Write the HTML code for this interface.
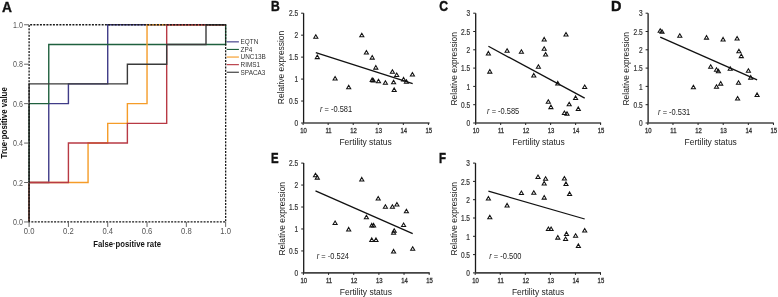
<!DOCTYPE html>
<html><head><meta charset="utf-8"><style>
html,body{margin:0;padding:0;background:#fff;}
body{width:778px;height:297px;overflow:hidden;}
svg{display:block;font-family:"Liberation Sans", sans-serif;will-change:transform;}
</style></head><body>
<svg width="778" height="297" viewBox="0 0 778 297">
<text transform="translate(2.0,11.9) scale(0.92,1)" font-size="15" font-weight="bold" fill="#111" stroke="#111" stroke-width="0.35">A</text>
<path d="M29.10,221.95 L29.10,182.51 L48.76,182.51 L48.76,103.63 L68.41,103.63 L68.41,83.91 L107.72,83.91 L107.72,24.75 L225.65,24.75" fill="none" stroke="#403c88" stroke-width="1.4" stroke-linejoin="miter"/>
<path d="M29.10,221.95 L29.10,103.63 L48.76,103.63 L48.76,44.47 L225.65,44.47 L225.65,24.75" fill="none" stroke="#1f603e" stroke-width="1.4" stroke-linejoin="miter"/>
<path d="M29.10,221.95 L29.10,182.51 L68.41,182.51 L88.06,182.51 L88.06,143.07 L107.72,143.07 L107.72,123.35 L127.38,123.35 L127.38,103.63 L147.03,103.63 L147.03,24.75 L225.65,24.75" fill="none" stroke="#f59c28" stroke-width="1.4" stroke-linejoin="miter"/>
<path d="M29.10,221.95 L29.10,182.51 L68.41,182.51 L68.41,143.07 L127.38,143.07 L127.38,123.35 L166.69,123.35 L166.69,24.75 L225.65,24.75" fill="none" stroke="#b83a44" stroke-width="1.4" stroke-linejoin="miter"/>
<path d="M29.10,221.95 L29.10,83.91 L127.38,83.91 L127.38,64.19 L166.69,64.19 L166.69,44.47 L206.00,44.47 L206.00,24.75 L225.65,24.75" fill="none" stroke="#3a3a3a" stroke-width="1.4" stroke-linejoin="miter"/>
<path d="M29.1,221.95 L29.1,24.75 L225.65,24.75 L225.65,221.95 Z" fill="none" stroke="#1a1a1a" stroke-width="1.3" stroke-dasharray="2,1.25"/>
<line x1="24.1" y1="221.95" x2="29.1" y2="221.95" stroke="#666" stroke-width="1"/>
<line x1="29.10" y1="221.95" x2="29.10" y2="226.95" stroke="#666" stroke-width="1"/>
<text transform="translate(23.00,225.20) scale(0.79,1)" font-size="9" fill="#555" text-anchor="end">0.0</text>
<text transform="translate(29.10,234.15) scale(0.85,1)" font-size="9" fill="#555" text-anchor="middle">0.0</text>
<line x1="24.1" y1="182.51" x2="29.1" y2="182.51" stroke="#666" stroke-width="1"/>
<line x1="68.41" y1="221.95" x2="68.41" y2="226.95" stroke="#666" stroke-width="1"/>
<text transform="translate(23.00,185.76) scale(0.79,1)" font-size="9" fill="#555" text-anchor="end">0.2</text>
<text transform="translate(68.41,234.15) scale(0.85,1)" font-size="9" fill="#555" text-anchor="middle">0.2</text>
<line x1="24.1" y1="143.07" x2="29.1" y2="143.07" stroke="#666" stroke-width="1"/>
<line x1="107.72" y1="221.95" x2="107.72" y2="226.95" stroke="#666" stroke-width="1"/>
<text transform="translate(23.00,146.32) scale(0.79,1)" font-size="9" fill="#555" text-anchor="end">0.4</text>
<text transform="translate(107.72,234.15) scale(0.85,1)" font-size="9" fill="#555" text-anchor="middle">0.4</text>
<line x1="24.1" y1="103.63" x2="29.1" y2="103.63" stroke="#666" stroke-width="1"/>
<line x1="147.03" y1="221.95" x2="147.03" y2="226.95" stroke="#666" stroke-width="1"/>
<text transform="translate(23.00,106.88) scale(0.79,1)" font-size="9" fill="#555" text-anchor="end">0.6</text>
<text transform="translate(147.03,234.15) scale(0.85,1)" font-size="9" fill="#555" text-anchor="middle">0.6</text>
<line x1="24.1" y1="64.19" x2="29.1" y2="64.19" stroke="#666" stroke-width="1"/>
<line x1="186.34" y1="221.95" x2="186.34" y2="226.95" stroke="#666" stroke-width="1"/>
<text transform="translate(23.00,67.44) scale(0.79,1)" font-size="9" fill="#555" text-anchor="end">0.8</text>
<text transform="translate(186.34,234.15) scale(0.85,1)" font-size="9" fill="#555" text-anchor="middle">0.8</text>
<line x1="24.1" y1="24.75" x2="29.1" y2="24.75" stroke="#666" stroke-width="1"/>
<line x1="225.65" y1="221.95" x2="225.65" y2="226.95" stroke="#666" stroke-width="1"/>
<text transform="translate(23.00,28.00) scale(0.79,1)" font-size="9" fill="#555" text-anchor="end">1.0</text>
<text transform="translate(225.65,234.15) scale(0.85,1)" font-size="9" fill="#555" text-anchor="middle">1.0</text>
<line x1="226.7" y1="41.85" x2="238.9" y2="41.85" stroke="#403c88" stroke-width="1.15"/>
<text transform="translate(240.6,44.25) scale(0.97,1)" font-size="6.6" fill="#333">EQTN</text>
<line x1="226.7" y1="49.45" x2="238.9" y2="49.45" stroke="#1f603e" stroke-width="1.15"/>
<text transform="translate(240.6,51.85) scale(0.97,1)" font-size="6.6" fill="#333">ZP4</text>
<line x1="226.7" y1="57.05" x2="238.9" y2="57.05" stroke="#f59c28" stroke-width="1.15"/>
<text transform="translate(240.6,59.45) scale(0.97,1)" font-size="6.6" fill="#333">UNC13B</text>
<line x1="226.7" y1="64.65" x2="238.9" y2="64.65" stroke="#b83a44" stroke-width="1.15"/>
<text transform="translate(240.6,67.05) scale(0.97,1)" font-size="6.6" fill="#333">RIMS1</text>
<line x1="226.7" y1="72.25" x2="238.9" y2="72.25" stroke="#3a3a3a" stroke-width="1.15"/>
<text transform="translate(240.6,74.65) scale(0.97,1)" font-size="6.6" fill="#333">SPACA3</text>
<text x="127.15" y="246.8" font-size="8.3" font-weight="bold" fill="#111" text-anchor="middle" textLength="67.7" lengthAdjust="spacingAndGlyphs">False·positive rate</text>
<text transform="translate(7.1,122.8) rotate(-90)" font-size="8.3" font-weight="bold" fill="#111" text-anchor="middle" textLength="71.2" lengthAdjust="spacingAndGlyphs">True·positive value</text>
<text transform="translate(271.0,11.45) scale(0.81,1)" font-size="15" font-weight="bold" fill="#111" stroke="#111" stroke-width="0.45">B</text>
<path d="M303.6,13.200000000000001 L303.6,123.0" fill="none" stroke="#1a1a1a" stroke-width="1.3"/>
<path d="M303.6,123.0 L429.6,123.0" fill="none" stroke="#444" stroke-width="1.7"/>
<line x1="301.1" y1="123.00" x2="303.6" y2="123.00" stroke="#222" stroke-width="1"/>
<text transform="translate(298.10,126.25) scale(0.77,1)" font-size="8.5" fill="#3a3a3a" stroke="#3a3a3a" stroke-width="0.25" text-anchor="end">0</text>
<line x1="301.1" y1="101.04" x2="303.6" y2="101.04" stroke="#222" stroke-width="1"/>
<text transform="translate(298.10,104.29) scale(0.77,1)" font-size="8.5" fill="#3a3a3a" stroke="#3a3a3a" stroke-width="0.25" text-anchor="end">0.5</text>
<line x1="301.1" y1="79.08" x2="303.6" y2="79.08" stroke="#222" stroke-width="1"/>
<text transform="translate(298.10,82.33) scale(0.77,1)" font-size="8.5" fill="#3a3a3a" stroke="#3a3a3a" stroke-width="0.25" text-anchor="end">1</text>
<line x1="301.1" y1="57.12" x2="303.6" y2="57.12" stroke="#222" stroke-width="1"/>
<text transform="translate(298.10,60.37) scale(0.77,1)" font-size="8.5" fill="#3a3a3a" stroke="#3a3a3a" stroke-width="0.25" text-anchor="end">1.5</text>
<line x1="301.1" y1="35.16" x2="303.6" y2="35.16" stroke="#222" stroke-width="1"/>
<text transform="translate(298.10,38.41) scale(0.77,1)" font-size="8.5" fill="#3a3a3a" stroke="#3a3a3a" stroke-width="0.25" text-anchor="end">2</text>
<line x1="301.1" y1="13.20" x2="303.6" y2="13.20" stroke="#222" stroke-width="1"/>
<text transform="translate(298.10,16.45) scale(0.77,1)" font-size="8.5" fill="#3a3a3a" stroke="#3a3a3a" stroke-width="0.25" text-anchor="end">2.5</text>
<line x1="303.10" y1="123.0" x2="303.10" y2="125.0" stroke="#222" stroke-width="1"/>
<text transform="translate(303.50,133.10) scale(0.85,1)" font-size="7.0" fill="#333" stroke="#333" stroke-width="0.3" text-anchor="middle">10</text>
<line x1="328.16" y1="123.0" x2="328.16" y2="125.0" stroke="#222" stroke-width="1"/>
<text transform="translate(328.56,133.10) scale(0.85,1)" font-size="7.0" fill="#333" stroke="#333" stroke-width="0.3" text-anchor="middle">11</text>
<line x1="353.22" y1="123.0" x2="353.22" y2="125.0" stroke="#222" stroke-width="1"/>
<text transform="translate(353.62,133.10) scale(0.85,1)" font-size="7.0" fill="#333" stroke="#333" stroke-width="0.3" text-anchor="middle">12</text>
<line x1="378.28" y1="123.0" x2="378.28" y2="125.0" stroke="#222" stroke-width="1"/>
<text transform="translate(378.68,133.10) scale(0.85,1)" font-size="7.0" fill="#333" stroke="#333" stroke-width="0.3" text-anchor="middle">13</text>
<line x1="403.34" y1="123.0" x2="403.34" y2="125.0" stroke="#222" stroke-width="1"/>
<text transform="translate(403.74,133.10) scale(0.85,1)" font-size="7.0" fill="#333" stroke="#333" stroke-width="0.3" text-anchor="middle">14</text>
<line x1="428.40" y1="123.0" x2="428.40" y2="125.0" stroke="#222" stroke-width="1"/>
<text transform="translate(428.80,133.10) scale(0.85,1)" font-size="7.0" fill="#333" stroke="#333" stroke-width="0.3" text-anchor="middle">15</text>
<text x="365.60" y="144.90" font-size="8.6" fill="#222" text-anchor="middle" textLength="52.3" lengthAdjust="spacingAndGlyphs">Fertility status</text>
<text transform="translate(284.30,67.50) rotate(-90)" font-size="8.9" fill="#222" text-anchor="middle" textLength="73.4" lengthAdjust="spacingAndGlyphs">Relative expression</text>
<text transform="translate(320.00,111.70) scale(0.84,1)" font-size="8.9" fill="#222"><tspan font-style="italic">r</tspan> = -0.581</text>
<line x1="315.8" y1="52.6" x2="412.7" y2="83.7" stroke="#111" stroke-width="1.3"/>
<path d="M315.80,34.70 L317.85,38.20 L313.75,38.20 Z" fill="none" stroke="#111" stroke-width="1.05" stroke-linejoin="miter"/>
<path d="M361.80,33.20 L363.85,36.70 L359.75,36.70 Z" fill="none" stroke="#111" stroke-width="1.05" stroke-linejoin="miter"/>
<path d="M317.30,55.10 L319.35,58.60 L315.25,58.60 Z" fill="none" stroke="#111" stroke-width="1.05" stroke-linejoin="miter"/>
<path d="M366.40,50.50 L368.45,54.00 L364.35,54.00 Z" fill="none" stroke="#111" stroke-width="1.05" stroke-linejoin="miter"/>
<path d="M372.20,55.60 L374.25,59.10 L370.15,59.10 Z" fill="none" stroke="#111" stroke-width="1.05" stroke-linejoin="miter"/>
<path d="M335.10,76.50 L337.15,80.00 L333.05,80.00 Z" fill="none" stroke="#111" stroke-width="1.05" stroke-linejoin="miter"/>
<path d="M348.70,85.20 L350.75,88.70 L346.65,88.70 Z" fill="none" stroke="#111" stroke-width="1.05" stroke-linejoin="miter"/>
<path d="M375.80,65.60 L377.85,69.10 L373.75,69.10 Z" fill="none" stroke="#111" stroke-width="1.05" stroke-linejoin="miter"/>
<path d="M372.20,77.90 L374.25,81.40 L370.15,81.40 Z" fill="none" stroke="#111" stroke-width="1.05" stroke-linejoin="miter"/>
<path d="M373.30,78.50 L375.35,82.00 L371.25,82.00 Z" fill="none" stroke="#111" stroke-width="1.05" stroke-linejoin="miter"/>
<path d="M378.50,79.20 L380.55,82.70 L376.45,82.70 Z" fill="none" stroke="#111" stroke-width="1.05" stroke-linejoin="miter"/>
<path d="M385.40,80.70 L387.45,84.20 L383.35,84.20 Z" fill="none" stroke="#111" stroke-width="1.05" stroke-linejoin="miter"/>
<path d="M392.40,69.80 L394.45,73.30 L390.35,73.30 Z" fill="none" stroke="#111" stroke-width="1.05" stroke-linejoin="miter"/>
<path d="M396.70,73.00 L398.75,76.50 L394.65,76.50 Z" fill="none" stroke="#111" stroke-width="1.05" stroke-linejoin="miter"/>
<path d="M393.60,80.30 L395.65,83.80 L391.55,83.80 Z" fill="none" stroke="#111" stroke-width="1.05" stroke-linejoin="miter"/>
<path d="M394.20,87.90 L396.25,91.40 L392.15,91.40 Z" fill="none" stroke="#111" stroke-width="1.05" stroke-linejoin="miter"/>
<path d="M403.60,77.40 L405.65,80.90 L401.55,80.90 Z" fill="none" stroke="#111" stroke-width="1.05" stroke-linejoin="miter"/>
<path d="M406.40,79.80 L408.45,83.30 L404.35,83.30 Z" fill="none" stroke="#111" stroke-width="1.05" stroke-linejoin="miter"/>
<path d="M412.40,72.50 L414.45,76.00 L410.35,76.00 Z" fill="none" stroke="#111" stroke-width="1.05" stroke-linejoin="miter"/>
<text transform="translate(439.3,11.45) scale(0.81,1)" font-size="15" font-weight="bold" fill="#111" stroke="#111" stroke-width="0.45">C</text>
<path d="M475.7,13.200000000000001 L475.7,123.0" fill="none" stroke="#1a1a1a" stroke-width="1.3"/>
<path d="M475.7,123.0 L601.1,123.0" fill="none" stroke="#444" stroke-width="1.7"/>
<line x1="473.2" y1="123.00" x2="475.7" y2="123.00" stroke="#222" stroke-width="1"/>
<text transform="translate(470.20,126.25) scale(0.77,1)" font-size="8.5" fill="#3a3a3a" stroke="#3a3a3a" stroke-width="0.25" text-anchor="end">0</text>
<line x1="473.2" y1="104.70" x2="475.7" y2="104.70" stroke="#222" stroke-width="1"/>
<text transform="translate(470.20,107.95) scale(0.77,1)" font-size="8.5" fill="#3a3a3a" stroke="#3a3a3a" stroke-width="0.25" text-anchor="end">0.5</text>
<line x1="473.2" y1="86.40" x2="475.7" y2="86.40" stroke="#222" stroke-width="1"/>
<text transform="translate(470.20,89.65) scale(0.77,1)" font-size="8.5" fill="#3a3a3a" stroke="#3a3a3a" stroke-width="0.25" text-anchor="end">1</text>
<line x1="473.2" y1="68.10" x2="475.7" y2="68.10" stroke="#222" stroke-width="1"/>
<text transform="translate(470.20,71.35) scale(0.77,1)" font-size="8.5" fill="#3a3a3a" stroke="#3a3a3a" stroke-width="0.25" text-anchor="end">1.5</text>
<line x1="473.2" y1="49.80" x2="475.7" y2="49.80" stroke="#222" stroke-width="1"/>
<text transform="translate(470.20,53.05) scale(0.77,1)" font-size="8.5" fill="#3a3a3a" stroke="#3a3a3a" stroke-width="0.25" text-anchor="end">2</text>
<line x1="473.2" y1="31.50" x2="475.7" y2="31.50" stroke="#222" stroke-width="1"/>
<text transform="translate(470.20,34.75) scale(0.77,1)" font-size="8.5" fill="#3a3a3a" stroke="#3a3a3a" stroke-width="0.25" text-anchor="end">2.5</text>
<line x1="473.2" y1="13.20" x2="475.7" y2="13.20" stroke="#222" stroke-width="1"/>
<text transform="translate(470.20,16.45) scale(0.77,1)" font-size="8.5" fill="#3a3a3a" stroke="#3a3a3a" stroke-width="0.25" text-anchor="end">3</text>
<line x1="475.70" y1="123.0" x2="475.70" y2="125.0" stroke="#222" stroke-width="1"/>
<text transform="translate(476.10,133.10) scale(0.85,1)" font-size="7.0" fill="#333" stroke="#333" stroke-width="0.3" text-anchor="middle">10</text>
<line x1="500.68" y1="123.0" x2="500.68" y2="125.0" stroke="#222" stroke-width="1"/>
<text transform="translate(501.08,133.10) scale(0.85,1)" font-size="7.0" fill="#333" stroke="#333" stroke-width="0.3" text-anchor="middle">11</text>
<line x1="525.66" y1="123.0" x2="525.66" y2="125.0" stroke="#222" stroke-width="1"/>
<text transform="translate(526.06,133.10) scale(0.85,1)" font-size="7.0" fill="#333" stroke="#333" stroke-width="0.3" text-anchor="middle">12</text>
<line x1="550.64" y1="123.0" x2="550.64" y2="125.0" stroke="#222" stroke-width="1"/>
<text transform="translate(551.04,133.10) scale(0.85,1)" font-size="7.0" fill="#333" stroke="#333" stroke-width="0.3" text-anchor="middle">13</text>
<line x1="575.62" y1="123.0" x2="575.62" y2="125.0" stroke="#222" stroke-width="1"/>
<text transform="translate(576.02,133.10) scale(0.85,1)" font-size="7.0" fill="#333" stroke="#333" stroke-width="0.3" text-anchor="middle">14</text>
<line x1="600.60" y1="123.0" x2="600.60" y2="125.0" stroke="#222" stroke-width="1"/>
<text transform="translate(601.00,133.10) scale(0.85,1)" font-size="7.0" fill="#333" stroke="#333" stroke-width="0.3" text-anchor="middle">15</text>
<text x="538.60" y="144.90" font-size="8.6" fill="#222" text-anchor="middle" textLength="52.3" lengthAdjust="spacingAndGlyphs">Fertility status</text>
<text transform="translate(457.00,68.80) rotate(-90)" font-size="8.9" fill="#222" text-anchor="middle" textLength="73.4" lengthAdjust="spacingAndGlyphs">Relative expression</text>
<text transform="translate(487.10,113.70) scale(0.84,1)" font-size="8.9" fill="#222"><tspan font-style="italic">r</tspan> = -0.585</text>
<line x1="488.4" y1="46.3" x2="584.7" y2="98.10000000000001" stroke="#111" stroke-width="1.3"/>
<path d="M488.40,51.40 L490.45,54.90 L486.35,54.90 Z" fill="none" stroke="#111" stroke-width="1.05" stroke-linejoin="miter"/>
<path d="M489.80,69.60 L491.85,73.10 L487.75,73.10 Z" fill="none" stroke="#111" stroke-width="1.05" stroke-linejoin="miter"/>
<path d="M507.10,48.70 L509.15,52.20 L505.05,52.20 Z" fill="none" stroke="#111" stroke-width="1.05" stroke-linejoin="miter"/>
<path d="M521.40,49.80 L523.45,53.30 L519.35,53.30 Z" fill="none" stroke="#111" stroke-width="1.05" stroke-linejoin="miter"/>
<path d="M538.40,64.70 L540.45,68.20 L536.35,68.20 Z" fill="none" stroke="#111" stroke-width="1.05" stroke-linejoin="miter"/>
<path d="M533.80,73.40 L535.85,76.90 L531.75,76.90 Z" fill="none" stroke="#111" stroke-width="1.05" stroke-linejoin="miter"/>
<path d="M544.20,37.40 L546.25,40.90 L542.15,40.90 Z" fill="none" stroke="#111" stroke-width="1.05" stroke-linejoin="miter"/>
<path d="M544.20,46.80 L546.25,50.30 L542.15,50.30 Z" fill="none" stroke="#111" stroke-width="1.05" stroke-linejoin="miter"/>
<path d="M545.60,52.50 L547.65,56.00 L543.55,56.00 Z" fill="none" stroke="#111" stroke-width="1.05" stroke-linejoin="miter"/>
<path d="M566.00,32.50 L568.05,36.00 L563.95,36.00 Z" fill="none" stroke="#111" stroke-width="1.05" stroke-linejoin="miter"/>
<path d="M557.80,81.40 L559.85,84.90 L555.75,84.90 Z" fill="none" stroke="#111" stroke-width="1.05" stroke-linejoin="miter"/>
<path d="M584.70,85.00 L586.75,88.50 L582.65,88.50 Z" fill="none" stroke="#111" stroke-width="1.05" stroke-linejoin="miter"/>
<path d="M575.60,95.90 L577.65,99.40 L573.55,99.40 Z" fill="none" stroke="#111" stroke-width="1.05" stroke-linejoin="miter"/>
<path d="M548.30,99.70 L550.35,103.20 L546.25,103.20 Z" fill="none" stroke="#111" stroke-width="1.05" stroke-linejoin="miter"/>
<path d="M550.90,105.10 L552.95,108.60 L548.85,108.60 Z" fill="none" stroke="#111" stroke-width="1.05" stroke-linejoin="miter"/>
<path d="M569.20,102.20 L571.25,105.70 L567.15,105.70 Z" fill="none" stroke="#111" stroke-width="1.05" stroke-linejoin="miter"/>
<path d="M578.30,106.90 L580.35,110.40 L576.25,110.40 Z" fill="none" stroke="#111" stroke-width="1.05" stroke-linejoin="miter"/>
<path d="M564.40,111.00 L566.45,114.50 L562.35,114.50 Z" fill="none" stroke="#111" stroke-width="1.05" stroke-linejoin="miter"/>
<path d="M567.00,111.70 L569.05,115.20 L564.95,115.20 Z" fill="none" stroke="#111" stroke-width="1.05" stroke-linejoin="miter"/>
<text transform="translate(610.9,11.45) scale(0.96,1)" font-size="15" font-weight="bold" fill="#111" stroke="#111" stroke-width="0.45">D</text>
<path d="M648.1,13.200000000000001 L648.1,123.0" fill="none" stroke="#1a1a1a" stroke-width="1.3"/>
<path d="M648.1,123.0 L773.7,123.0" fill="none" stroke="#444" stroke-width="1.7"/>
<line x1="645.6" y1="123.00" x2="648.1" y2="123.00" stroke="#222" stroke-width="1"/>
<text transform="translate(642.60,126.25) scale(0.77,1)" font-size="8.5" fill="#3a3a3a" stroke="#3a3a3a" stroke-width="0.25" text-anchor="end">0</text>
<line x1="645.6" y1="104.70" x2="648.1" y2="104.70" stroke="#222" stroke-width="1"/>
<text transform="translate(642.60,107.95) scale(0.77,1)" font-size="8.5" fill="#3a3a3a" stroke="#3a3a3a" stroke-width="0.25" text-anchor="end">0.5</text>
<line x1="645.6" y1="86.40" x2="648.1" y2="86.40" stroke="#222" stroke-width="1"/>
<text transform="translate(642.60,89.65) scale(0.77,1)" font-size="8.5" fill="#3a3a3a" stroke="#3a3a3a" stroke-width="0.25" text-anchor="end">1</text>
<line x1="645.6" y1="68.10" x2="648.1" y2="68.10" stroke="#222" stroke-width="1"/>
<text transform="translate(642.60,71.35) scale(0.77,1)" font-size="8.5" fill="#3a3a3a" stroke="#3a3a3a" stroke-width="0.25" text-anchor="end">1.5</text>
<line x1="645.6" y1="49.80" x2="648.1" y2="49.80" stroke="#222" stroke-width="1"/>
<text transform="translate(642.60,53.05) scale(0.77,1)" font-size="8.5" fill="#3a3a3a" stroke="#3a3a3a" stroke-width="0.25" text-anchor="end">2</text>
<line x1="645.6" y1="31.50" x2="648.1" y2="31.50" stroke="#222" stroke-width="1"/>
<text transform="translate(642.60,34.75) scale(0.77,1)" font-size="8.5" fill="#3a3a3a" stroke="#3a3a3a" stroke-width="0.25" text-anchor="end">2.5</text>
<line x1="645.6" y1="13.20" x2="648.1" y2="13.20" stroke="#222" stroke-width="1"/>
<text transform="translate(642.60,16.45) scale(0.77,1)" font-size="8.5" fill="#3a3a3a" stroke="#3a3a3a" stroke-width="0.25" text-anchor="end">3</text>
<line x1="647.85" y1="123.0" x2="647.85" y2="125.0" stroke="#222" stroke-width="1"/>
<text transform="translate(648.25,133.10) scale(0.85,1)" font-size="7.0" fill="#333" stroke="#333" stroke-width="0.3" text-anchor="middle">10</text>
<line x1="672.97" y1="123.0" x2="672.97" y2="125.0" stroke="#222" stroke-width="1"/>
<text transform="translate(673.37,133.10) scale(0.85,1)" font-size="7.0" fill="#333" stroke="#333" stroke-width="0.3" text-anchor="middle">11</text>
<line x1="698.09" y1="123.0" x2="698.09" y2="125.0" stroke="#222" stroke-width="1"/>
<text transform="translate(698.49,133.10) scale(0.85,1)" font-size="7.0" fill="#333" stroke="#333" stroke-width="0.3" text-anchor="middle">12</text>
<line x1="723.21" y1="123.0" x2="723.21" y2="125.0" stroke="#222" stroke-width="1"/>
<text transform="translate(723.61,133.10) scale(0.85,1)" font-size="7.0" fill="#333" stroke="#333" stroke-width="0.3" text-anchor="middle">13</text>
<line x1="748.33" y1="123.0" x2="748.33" y2="125.0" stroke="#222" stroke-width="1"/>
<text transform="translate(748.73,133.10) scale(0.85,1)" font-size="7.0" fill="#333" stroke="#333" stroke-width="0.3" text-anchor="middle">14</text>
<line x1="773.45" y1="123.0" x2="773.45" y2="125.0" stroke="#222" stroke-width="1"/>
<text transform="translate(773.85,133.10) scale(0.85,1)" font-size="7.0" fill="#333" stroke="#333" stroke-width="0.3" text-anchor="middle">15</text>
<text x="710.70" y="144.90" font-size="8.6" fill="#222" text-anchor="middle" textLength="52.3" lengthAdjust="spacingAndGlyphs">Fertility status</text>
<text transform="translate(629.40,68.80) rotate(-90)" font-size="8.9" fill="#222" text-anchor="middle" textLength="73.4" lengthAdjust="spacingAndGlyphs">Relative expression</text>
<text transform="translate(658.10,114.90) scale(0.84,1)" font-size="8.9" fill="#222"><tspan font-style="italic">r</tspan> = -0.531</text>
<line x1="660.2" y1="37.199999999999996" x2="757.1" y2="79.9" stroke="#111" stroke-width="1.3"/>
<path d="M660.20,28.80 L662.25,32.30 L658.15,32.30 Z" fill="none" stroke="#111" stroke-width="1.05" stroke-linejoin="miter"/>
<path d="M662.00,29.80 L664.05,33.30 L659.95,33.30 Z" fill="none" stroke="#111" stroke-width="1.05" stroke-linejoin="miter"/>
<path d="M679.80,33.80 L681.85,37.30 L677.75,37.30 Z" fill="none" stroke="#111" stroke-width="1.05" stroke-linejoin="miter"/>
<path d="M706.50,35.60 L708.55,39.10 L704.45,39.10 Z" fill="none" stroke="#111" stroke-width="1.05" stroke-linejoin="miter"/>
<path d="M723.10,37.40 L725.15,40.90 L721.05,40.90 Z" fill="none" stroke="#111" stroke-width="1.05" stroke-linejoin="miter"/>
<path d="M737.10,36.50 L739.15,40.00 L735.05,40.00 Z" fill="none" stroke="#111" stroke-width="1.05" stroke-linejoin="miter"/>
<path d="M738.90,49.20 L740.95,52.70 L736.85,52.70 Z" fill="none" stroke="#111" stroke-width="1.05" stroke-linejoin="miter"/>
<path d="M741.30,54.10 L743.35,57.60 L739.25,57.60 Z" fill="none" stroke="#111" stroke-width="1.05" stroke-linejoin="miter"/>
<path d="M710.70,64.70 L712.75,68.20 L708.65,68.20 Z" fill="none" stroke="#111" stroke-width="1.05" stroke-linejoin="miter"/>
<path d="M716.50,67.80 L718.55,71.30 L714.45,71.30 Z" fill="none" stroke="#111" stroke-width="1.05" stroke-linejoin="miter"/>
<path d="M718.40,69.20 L720.45,72.70 L716.35,72.70 Z" fill="none" stroke="#111" stroke-width="1.05" stroke-linejoin="miter"/>
<path d="M730.20,66.80 L732.25,70.30 L728.15,70.30 Z" fill="none" stroke="#111" stroke-width="1.05" stroke-linejoin="miter"/>
<path d="M748.40,68.70 L750.45,72.20 L746.35,72.20 Z" fill="none" stroke="#111" stroke-width="1.05" stroke-linejoin="miter"/>
<path d="M750.70,75.60 L752.75,79.10 L748.65,79.10 Z" fill="none" stroke="#111" stroke-width="1.05" stroke-linejoin="miter"/>
<path d="M693.40,85.20 L695.45,88.70 L691.35,88.70 Z" fill="none" stroke="#111" stroke-width="1.05" stroke-linejoin="miter"/>
<path d="M716.50,84.70 L718.55,88.20 L714.45,88.20 Z" fill="none" stroke="#111" stroke-width="1.05" stroke-linejoin="miter"/>
<path d="M720.70,81.60 L722.75,85.10 L718.65,85.10 Z" fill="none" stroke="#111" stroke-width="1.05" stroke-linejoin="miter"/>
<path d="M738.50,80.70 L740.55,84.20 L736.45,84.20 Z" fill="none" stroke="#111" stroke-width="1.05" stroke-linejoin="miter"/>
<path d="M737.60,96.50 L739.65,100.00 L735.55,100.00 Z" fill="none" stroke="#111" stroke-width="1.05" stroke-linejoin="miter"/>
<path d="M757.10,92.90 L759.15,96.40 L755.05,96.40 Z" fill="none" stroke="#111" stroke-width="1.05" stroke-linejoin="miter"/>
<text transform="translate(270.9,163.0) scale(0.76,1)" font-size="15" font-weight="bold" fill="#111" stroke="#111" stroke-width="0.45">E</text>
<path d="M303.7,163.10000000000002 L303.7,272.9" fill="none" stroke="#1a1a1a" stroke-width="1.3"/>
<path d="M303.7,272.9 L429.7,272.9" fill="none" stroke="#444" stroke-width="1.7"/>
<line x1="301.2" y1="272.90" x2="303.7" y2="272.90" stroke="#222" stroke-width="1"/>
<text transform="translate(298.20,276.15) scale(0.77,1)" font-size="8.5" fill="#3a3a3a" stroke="#3a3a3a" stroke-width="0.25" text-anchor="end">0</text>
<line x1="301.2" y1="250.94" x2="303.7" y2="250.94" stroke="#222" stroke-width="1"/>
<text transform="translate(298.20,254.19) scale(0.77,1)" font-size="8.5" fill="#3a3a3a" stroke="#3a3a3a" stroke-width="0.25" text-anchor="end">0.5</text>
<line x1="301.2" y1="228.98" x2="303.7" y2="228.98" stroke="#222" stroke-width="1"/>
<text transform="translate(298.20,232.23) scale(0.77,1)" font-size="8.5" fill="#3a3a3a" stroke="#3a3a3a" stroke-width="0.25" text-anchor="end">1</text>
<line x1="301.2" y1="207.02" x2="303.7" y2="207.02" stroke="#222" stroke-width="1"/>
<text transform="translate(298.20,210.27) scale(0.77,1)" font-size="8.5" fill="#3a3a3a" stroke="#3a3a3a" stroke-width="0.25" text-anchor="end">1.5</text>
<line x1="301.2" y1="185.06" x2="303.7" y2="185.06" stroke="#222" stroke-width="1"/>
<text transform="translate(298.20,188.31) scale(0.77,1)" font-size="8.5" fill="#3a3a3a" stroke="#3a3a3a" stroke-width="0.25" text-anchor="end">2</text>
<line x1="301.2" y1="163.10" x2="303.7" y2="163.10" stroke="#222" stroke-width="1"/>
<text transform="translate(298.20,166.35) scale(0.77,1)" font-size="8.5" fill="#3a3a3a" stroke="#3a3a3a" stroke-width="0.25" text-anchor="end">2.5</text>
<line x1="303.40" y1="272.9" x2="303.40" y2="274.9" stroke="#222" stroke-width="1"/>
<text transform="translate(303.80,283.00) scale(0.85,1)" font-size="7.0" fill="#333" stroke="#333" stroke-width="0.3" text-anchor="middle">10</text>
<line x1="328.56" y1="272.9" x2="328.56" y2="274.9" stroke="#222" stroke-width="1"/>
<text transform="translate(328.96,283.00) scale(0.85,1)" font-size="7.0" fill="#333" stroke="#333" stroke-width="0.3" text-anchor="middle">11</text>
<line x1="353.72" y1="272.9" x2="353.72" y2="274.9" stroke="#222" stroke-width="1"/>
<text transform="translate(354.12,283.00) scale(0.85,1)" font-size="7.0" fill="#333" stroke="#333" stroke-width="0.3" text-anchor="middle">12</text>
<line x1="378.88" y1="272.9" x2="378.88" y2="274.9" stroke="#222" stroke-width="1"/>
<text transform="translate(379.28,283.00) scale(0.85,1)" font-size="7.0" fill="#333" stroke="#333" stroke-width="0.3" text-anchor="middle">13</text>
<line x1="404.04" y1="272.9" x2="404.04" y2="274.9" stroke="#222" stroke-width="1"/>
<text transform="translate(404.44,283.00) scale(0.85,1)" font-size="7.0" fill="#333" stroke="#333" stroke-width="0.3" text-anchor="middle">14</text>
<line x1="429.20" y1="272.9" x2="429.20" y2="274.9" stroke="#222" stroke-width="1"/>
<text transform="translate(429.60,283.00) scale(0.85,1)" font-size="7.0" fill="#333" stroke="#333" stroke-width="0.3" text-anchor="middle">15</text>
<text x="365.90" y="294.80" font-size="8.6" fill="#222" text-anchor="middle" textLength="52.3" lengthAdjust="spacingAndGlyphs">Fertility status</text>
<text transform="translate(285.00,218.70) rotate(-90)" font-size="8.9" fill="#222" text-anchor="middle" textLength="73.4" lengthAdjust="spacingAndGlyphs">Relative expression</text>
<text transform="translate(316.80,259.10) scale(0.84,1)" font-size="8.9" fill="#222"><tspan font-style="italic">r</tspan> = -0.524</text>
<line x1="315.5" y1="190.8" x2="412.7" y2="233.70000000000002" stroke="#111" stroke-width="1.3"/>
<path d="M315.50,173.20 L317.55,176.70 L313.45,176.70 Z" fill="none" stroke="#111" stroke-width="1.05" stroke-linejoin="miter"/>
<path d="M317.30,175.60 L319.35,179.10 L315.25,179.10 Z" fill="none" stroke="#111" stroke-width="1.05" stroke-linejoin="miter"/>
<path d="M361.80,177.40 L363.85,180.90 L359.75,180.90 Z" fill="none" stroke="#111" stroke-width="1.05" stroke-linejoin="miter"/>
<path d="M378.20,196.50 L380.25,200.00 L376.15,200.00 Z" fill="none" stroke="#111" stroke-width="1.05" stroke-linejoin="miter"/>
<path d="M385.40,204.70 L387.45,208.20 L383.35,208.20 Z" fill="none" stroke="#111" stroke-width="1.05" stroke-linejoin="miter"/>
<path d="M392.40,204.70 L394.45,208.20 L390.35,208.20 Z" fill="none" stroke="#111" stroke-width="1.05" stroke-linejoin="miter"/>
<path d="M396.90,202.50 L398.95,206.00 L394.85,206.00 Z" fill="none" stroke="#111" stroke-width="1.05" stroke-linejoin="miter"/>
<path d="M406.40,209.30 L408.45,212.80 L404.35,212.80 Z" fill="none" stroke="#111" stroke-width="1.05" stroke-linejoin="miter"/>
<path d="M366.40,215.20 L368.45,218.70 L364.35,218.70 Z" fill="none" stroke="#111" stroke-width="1.05" stroke-linejoin="miter"/>
<path d="M335.10,221.00 L337.15,224.50 L333.05,224.50 Z" fill="none" stroke="#111" stroke-width="1.05" stroke-linejoin="miter"/>
<path d="M348.70,227.40 L350.75,230.90 L346.65,230.90 Z" fill="none" stroke="#111" stroke-width="1.05" stroke-linejoin="miter"/>
<path d="M371.80,223.40 L373.85,226.90 L369.75,226.90 Z" fill="none" stroke="#111" stroke-width="1.05" stroke-linejoin="miter"/>
<path d="M373.60,223.40 L375.65,226.90 L371.55,226.90 Z" fill="none" stroke="#111" stroke-width="1.05" stroke-linejoin="miter"/>
<path d="M403.60,223.00 L405.65,226.50 L401.55,226.50 Z" fill="none" stroke="#111" stroke-width="1.05" stroke-linejoin="miter"/>
<path d="M394.20,228.80 L396.25,232.30 L392.15,232.30 Z" fill="none" stroke="#111" stroke-width="1.05" stroke-linejoin="miter"/>
<path d="M393.60,230.70 L395.65,234.20 L391.55,234.20 Z" fill="none" stroke="#111" stroke-width="1.05" stroke-linejoin="miter"/>
<path d="M371.80,237.90 L373.85,241.40 L369.75,241.40 Z" fill="none" stroke="#111" stroke-width="1.05" stroke-linejoin="miter"/>
<path d="M376.00,237.90 L378.05,241.40 L373.95,241.40 Z" fill="none" stroke="#111" stroke-width="1.05" stroke-linejoin="miter"/>
<path d="M393.60,249.40 L395.65,252.90 L391.55,252.90 Z" fill="none" stroke="#111" stroke-width="1.05" stroke-linejoin="miter"/>
<path d="M412.70,246.70 L414.75,250.20 L410.65,250.20 Z" fill="none" stroke="#111" stroke-width="1.05" stroke-linejoin="miter"/>
<text transform="translate(439.0,163.1) scale(0.76,1)" font-size="15" font-weight="bold" fill="#111" stroke="#111" stroke-width="0.45">F</text>
<path d="M475.5,163.10000000000002 L475.5,272.9" fill="none" stroke="#1a1a1a" stroke-width="1.3"/>
<path d="M475.5,272.9 L601.0,272.9" fill="none" stroke="#444" stroke-width="1.7"/>
<line x1="473.0" y1="272.90" x2="475.5" y2="272.90" stroke="#222" stroke-width="1"/>
<text transform="translate(470.00,276.15) scale(0.77,1)" font-size="8.5" fill="#3a3a3a" stroke="#3a3a3a" stroke-width="0.25" text-anchor="end">0</text>
<line x1="473.0" y1="254.60" x2="475.5" y2="254.60" stroke="#222" stroke-width="1"/>
<text transform="translate(470.00,257.85) scale(0.77,1)" font-size="8.5" fill="#3a3a3a" stroke="#3a3a3a" stroke-width="0.25" text-anchor="end">0.5</text>
<line x1="473.0" y1="236.30" x2="475.5" y2="236.30" stroke="#222" stroke-width="1"/>
<text transform="translate(470.00,239.55) scale(0.77,1)" font-size="8.5" fill="#3a3a3a" stroke="#3a3a3a" stroke-width="0.25" text-anchor="end">1</text>
<line x1="473.0" y1="218.00" x2="475.5" y2="218.00" stroke="#222" stroke-width="1"/>
<text transform="translate(470.00,221.25) scale(0.77,1)" font-size="8.5" fill="#3a3a3a" stroke="#3a3a3a" stroke-width="0.25" text-anchor="end">1.5</text>
<line x1="473.0" y1="199.70" x2="475.5" y2="199.70" stroke="#222" stroke-width="1"/>
<text transform="translate(470.00,202.95) scale(0.77,1)" font-size="8.5" fill="#3a3a3a" stroke="#3a3a3a" stroke-width="0.25" text-anchor="end">2</text>
<line x1="473.0" y1="181.40" x2="475.5" y2="181.40" stroke="#222" stroke-width="1"/>
<text transform="translate(470.00,184.65) scale(0.77,1)" font-size="8.5" fill="#3a3a3a" stroke="#3a3a3a" stroke-width="0.25" text-anchor="end">2.5</text>
<line x1="473.0" y1="163.10" x2="475.5" y2="163.10" stroke="#222" stroke-width="1"/>
<text transform="translate(470.00,166.35) scale(0.77,1)" font-size="8.5" fill="#3a3a3a" stroke="#3a3a3a" stroke-width="0.25" text-anchor="end">3</text>
<line x1="475.20" y1="272.9" x2="475.20" y2="274.9" stroke="#222" stroke-width="1"/>
<text transform="translate(475.60,283.00) scale(0.85,1)" font-size="7.0" fill="#333" stroke="#333" stroke-width="0.3" text-anchor="middle">10</text>
<line x1="500.26" y1="272.9" x2="500.26" y2="274.9" stroke="#222" stroke-width="1"/>
<text transform="translate(500.66,283.00) scale(0.85,1)" font-size="7.0" fill="#333" stroke="#333" stroke-width="0.3" text-anchor="middle">11</text>
<line x1="525.32" y1="272.9" x2="525.32" y2="274.9" stroke="#222" stroke-width="1"/>
<text transform="translate(525.72,283.00) scale(0.85,1)" font-size="7.0" fill="#333" stroke="#333" stroke-width="0.3" text-anchor="middle">12</text>
<line x1="550.38" y1="272.9" x2="550.38" y2="274.9" stroke="#222" stroke-width="1"/>
<text transform="translate(550.78,283.00) scale(0.85,1)" font-size="7.0" fill="#333" stroke="#333" stroke-width="0.3" text-anchor="middle">13</text>
<line x1="575.44" y1="272.9" x2="575.44" y2="274.9" stroke="#222" stroke-width="1"/>
<text transform="translate(575.84,283.00) scale(0.85,1)" font-size="7.0" fill="#333" stroke="#333" stroke-width="0.3" text-anchor="middle">14</text>
<line x1="600.50" y1="272.9" x2="600.50" y2="274.9" stroke="#222" stroke-width="1"/>
<text transform="translate(600.90,283.00) scale(0.85,1)" font-size="7.0" fill="#333" stroke="#333" stroke-width="0.3" text-anchor="middle">15</text>
<text x="538.05" y="294.80" font-size="8.6" fill="#222" text-anchor="middle" textLength="52.3" lengthAdjust="spacingAndGlyphs">Fertility status</text>
<text transform="translate(456.80,218.70) rotate(-90)" font-size="8.9" fill="#222" text-anchor="middle" textLength="73.4" lengthAdjust="spacingAndGlyphs">Relative expression</text>
<text transform="translate(489.30,258.90) scale(0.84,1)" font-size="8.9" fill="#222"><tspan font-style="italic">r</tspan> = -0.500</text>
<line x1="488.4" y1="191.20000000000002" x2="584.7" y2="219.0" stroke="#111" stroke-width="1.3"/>
<path d="M488.40,196.50 L490.45,200.00 L486.35,200.00 Z" fill="none" stroke="#111" stroke-width="1.05" stroke-linejoin="miter"/>
<path d="M507.10,203.40 L509.15,206.90 L505.05,206.90 Z" fill="none" stroke="#111" stroke-width="1.05" stroke-linejoin="miter"/>
<path d="M521.40,191.00 L523.45,194.50 L519.35,194.50 Z" fill="none" stroke="#111" stroke-width="1.05" stroke-linejoin="miter"/>
<path d="M533.80,190.70 L535.85,194.20 L531.75,194.20 Z" fill="none" stroke="#111" stroke-width="1.05" stroke-linejoin="miter"/>
<path d="M538.00,175.00 L540.05,178.50 L535.95,178.50 Z" fill="none" stroke="#111" stroke-width="1.05" stroke-linejoin="miter"/>
<path d="M545.60,176.80 L547.65,180.30 L543.55,180.30 Z" fill="none" stroke="#111" stroke-width="1.05" stroke-linejoin="miter"/>
<path d="M544.20,181.40 L546.25,184.90 L542.15,184.90 Z" fill="none" stroke="#111" stroke-width="1.05" stroke-linejoin="miter"/>
<path d="M544.20,195.60 L546.25,199.10 L542.15,199.10 Z" fill="none" stroke="#111" stroke-width="1.05" stroke-linejoin="miter"/>
<path d="M564.40,176.50 L566.45,180.00 L562.35,180.00 Z" fill="none" stroke="#111" stroke-width="1.05" stroke-linejoin="miter"/>
<path d="M566.00,181.90 L568.05,185.40 L563.95,185.40 Z" fill="none" stroke="#111" stroke-width="1.05" stroke-linejoin="miter"/>
<path d="M569.60,191.90 L571.65,195.40 L567.55,195.40 Z" fill="none" stroke="#111" stroke-width="1.05" stroke-linejoin="miter"/>
<path d="M489.80,215.20 L491.85,218.70 L487.75,218.70 Z" fill="none" stroke="#111" stroke-width="1.05" stroke-linejoin="miter"/>
<path d="M548.40,227.00 L550.45,230.50 L546.35,230.50 Z" fill="none" stroke="#111" stroke-width="1.05" stroke-linejoin="miter"/>
<path d="M551.10,227.00 L553.15,230.50 L549.05,230.50 Z" fill="none" stroke="#111" stroke-width="1.05" stroke-linejoin="miter"/>
<path d="M557.80,235.60 L559.85,239.10 L555.75,239.10 Z" fill="none" stroke="#111" stroke-width="1.05" stroke-linejoin="miter"/>
<path d="M566.50,231.90 L568.55,235.40 L564.45,235.40 Z" fill="none" stroke="#111" stroke-width="1.05" stroke-linejoin="miter"/>
<path d="M565.60,237.00 L567.65,240.50 L563.55,240.50 Z" fill="none" stroke="#111" stroke-width="1.05" stroke-linejoin="miter"/>
<path d="M575.60,233.70 L577.65,237.20 L573.55,237.20 Z" fill="none" stroke="#111" stroke-width="1.05" stroke-linejoin="miter"/>
<path d="M584.70,228.50 L586.75,232.00 L582.65,232.00 Z" fill="none" stroke="#111" stroke-width="1.05" stroke-linejoin="miter"/>
<path d="M578.40,243.90 L580.45,247.40 L576.35,247.40 Z" fill="none" stroke="#111" stroke-width="1.05" stroke-linejoin="miter"/>
</svg>
</body></html>
